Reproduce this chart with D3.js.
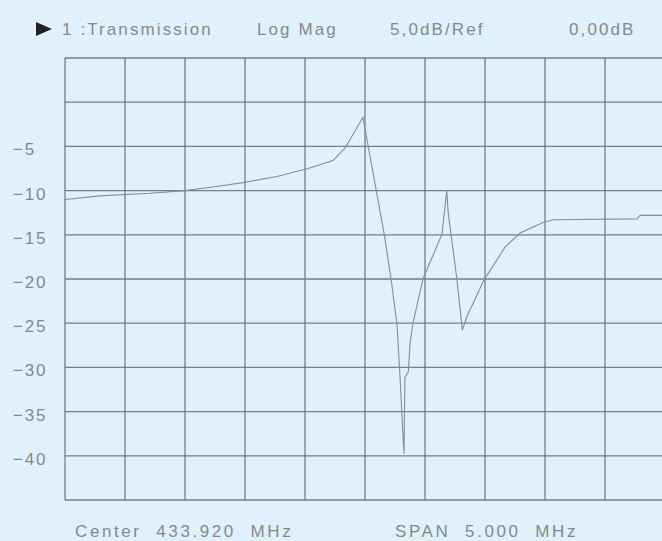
<!DOCTYPE html>
<html>
<head>
<meta charset="utf-8">
<script src="https://cdn.jsdelivr.net/npm/d3@7/dist/d3.min.js"></script>
<style>
html,body{margin:0;padding:0;background:#e0f1fb;}
svg{display:block;}
text{font-family:"Liberation Sans","DejaVu Sans",sans-serif;fill:#85898c;}
</style>
</head>
<body>
<svg id="chart" width="662" height="541"></svg>
<script>
// ---- data ----
const freqMHz = [431.420,431.712,432.128,432.420,432.653,432.903,433.187,433.445,433.653,433.753,433.903,
  434.014,434.081,434.137,434.187,434.212,434.228,434.245,434.249,434.253,434.281,434.295,434.320,
  434.403,434.562,434.601,434.614,434.684,434.731,434.768,434.912,435.087,435.212,435.403,435.487,
  436.187,436.212,436.395];
const magDB = [-11.0,-10.6,-10.3,-10.0,-9.6,-9.1,-8.4,-7.5,-6.6,-5.2,-1.7,
  -10.0,-15.0,-20.0,-25.2,-31.1,-35.5,-39.8,-35.0,-31.1,-30.5,-27.3,-25.0,
  -20.0,-14.9,-10.0,-12.6,-19.8,-25.8,-24.3,-20.1,-16.4,-14.8,-13.6,-13.3,
  -13.2,-12.8,-12.8];
const yTickValues = [-5,-10,-15,-20,-25,-30,-35,-40];
const yGrid = [5,0,-5,-10,-15,-20,-25,-30,-35,-40,-45];
const centerMHz = 433.920, spanMHz = 5.000;
const titleParts = ["1 :Transmission","Log Mag","5,0dB/Ref","0,00dB"];
const footerParts = ["Center  433.920  MHz","SPAN  5.000  MHz"];

// ---- layout ----
const svg = d3.select("#chart");
const L = 65, R = 665, T = 58, B = 500;
const x = d3.scaleLinear().domain([centerMHz - spanMHz/2, centerMHz + spanMHz/2]).range([L, R]);
const y = d3.scaleLinear().domain([5, -45]).range([T, B]);
const xGrid = d3.range(0, 11).map(i => centerMHz - spanMHz/2 + i*spanMHz/10);

const gridColor = "#5e6d76";
const g = svg.append("g");
g.selectAll("line.v").data(xGrid).join("line")
  .attr("x1", d => x(d)).attr("x2", d => x(d)).attr("y1", T).attr("y2", B)
  .attr("stroke", gridColor).attr("stroke-width", 1.3).attr("opacity", 0.85);
g.selectAll("line.h").data(yGrid).join("line")
  .attr("x1", L).attr("x2", R).attr("y1", d => y(d)).attr("y2", d => y(d))
  .attr("stroke", gridColor).attr("stroke-width", 1.3).attr("opacity", 0.85);

// y labels
svg.selectAll("text.yl").data(yTickValues).join("text")
  .attr("x", 13).attr("y", d => y(d) + 9)
  .attr("font-size", 17).attr("letter-spacing", 1.8)
  .text(d => "\u2212" + Math.abs(d));

// trace
const pts = freqMHz.map((f, i) => [f, magDB[i]]);
svg.append("path").datum(pts)
  .attr("d", d3.line().x(d => x(d[0])).y(d => y(d[1])))
  .attr("fill", "none").attr("stroke", "#808e96").attr("stroke-width", 1.1);

// title
svg.append("path").attr("d", "M36,22 L52,29 L36,36 Z").attr("fill", "#222");
const titleX = [62, 257, 390, 569];
svg.selectAll("text.t").data(titleParts).join("text")
  .attr("x", (d, i) => titleX[i]).attr("y", 35)
  .attr("font-size", 17).attr("letter-spacing", 2.1)
  .text(d => d);

// footer
const footX = [75, 395];
svg.selectAll("text.f").data(footerParts).join("text")
  .attr("x", (d, i) => footX[i]).attr("y", 537)
  .attr("font-size", 17).attr("letter-spacing", 2.6)
  .style("white-space", "pre")
  .text(d => d);
</script>
</body>
</html>
